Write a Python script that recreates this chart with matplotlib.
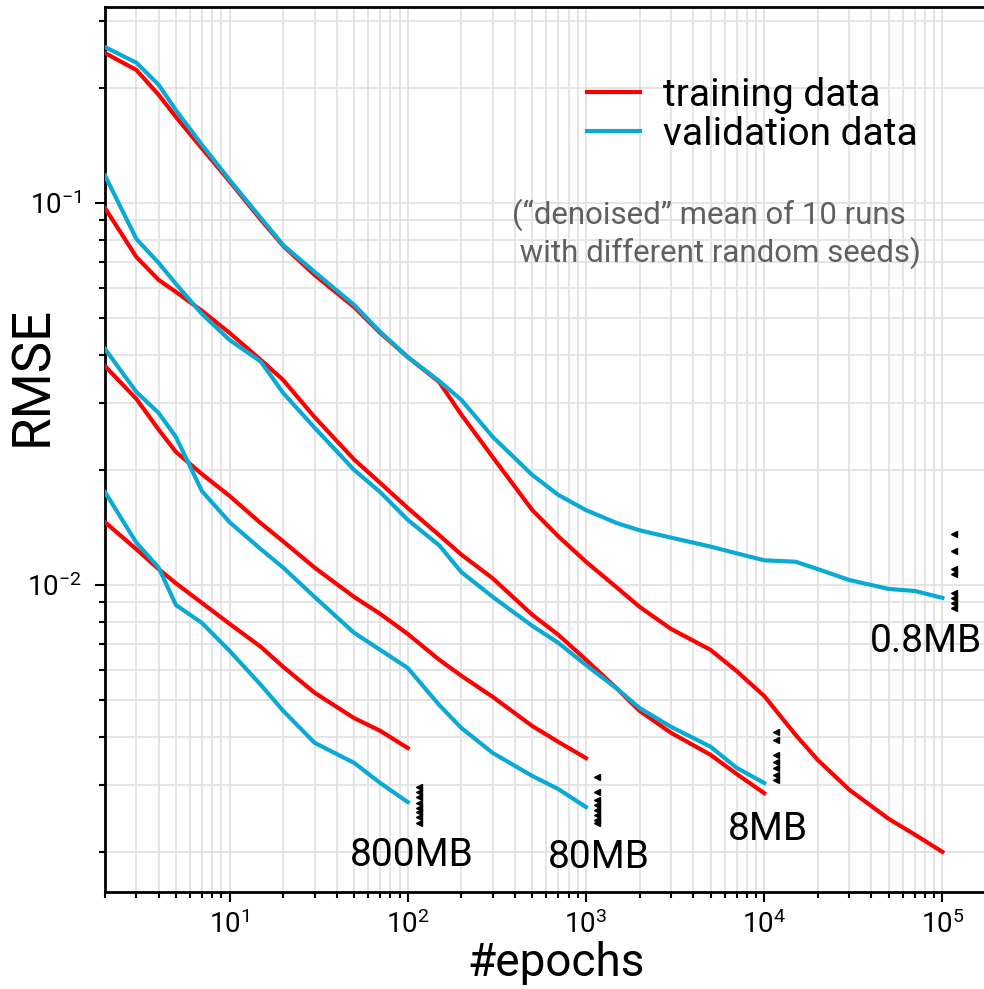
"""RMSE of training and validation data vs. number of epochs for four data sizes."""

import matplotlib
matplotlib.use("Agg")
import matplotlib.pyplot as plt

# Fonts: Roboto everywhere, also inside the 10^x tick labels
plt.rcParams["font.family"] = ["Roboto", "DejaVu Sans"]
plt.rcParams["mathtext.fontset"] = "custom"
plt.rcParams["mathtext.rm"] = "Roboto"
plt.rcParams["mathtext.it"] = "Roboto:italic"
plt.rcParams["mathtext.bf"] = "Roboto:bold"

epochs = [2, 3, 4, 5, 7, 10, 15, 20, 30, 50, 70, 100, 150, 200, 300, 500,
          700, 1000, 1500, 2000, 3000, 5000, 7000, 10000, 15000, 20000,
          30000, 50000, 70000, 100000]

# 0.8MB, trained for 1e5 epochs
train_08 = [0.247, 0.223, 0.192, 0.168, 0.139, 0.114, 0.0903, 0.0772, 0.0648,
            0.0534, 0.0457, 0.0395, 0.0340, 0.0279, 0.0216, 0.0157, 0.0134,
            0.0115, 0.00982, 0.00876, 0.00767, 0.00676, 0.00595, 0.00512,
            0.00405, 0.00348, 0.00291, 0.00244, 0.00222, 0.00200]
val_08 = [0.256, 0.233, 0.204, 0.175, 0.142, 0.115, 0.0913, 0.0776, 0.0660,
          0.0541, 0.0460, 0.0395, 0.0342, 0.0305, 0.0244, 0.0194, 0.0172,
          0.0157, 0.0145, 0.0139, 0.0133, 0.0126, 0.0121, 0.0116, 0.0115,
          0.0110, 0.0103, 0.00976, 0.00964, 0.00925]

# 8MB, trained for 1e4 epochs
train_8 = [0.0970, 0.0722, 0.0629, 0.0585, 0.0522, 0.0457, 0.0388, 0.0344,
           0.0275, 0.0213, 0.0185, 0.0159, 0.0135, 0.0120, 0.0104, 0.00835,
           0.00740, 0.00637, 0.00534, 0.00468, 0.00410, 0.00359, 0.00320,
           0.00285]
val_8 = [0.118, 0.0805, 0.0697, 0.0614, 0.0512, 0.0438, 0.0384, 0.0318,
         0.0258, 0.0200, 0.0175, 0.0148, 0.0127, 0.0108, 0.00930, 0.00781,
         0.00705, 0.00617, 0.00534, 0.00476, 0.00425, 0.00377, 0.00332,
         0.00303]

# 80MB, trained for 1e3 epochs
train_80 = [0.0374, 0.0307, 0.0255, 0.0223, 0.0195, 0.0171, 0.0145, 0.0130,
            0.0111, 0.00930, 0.00840, 0.00744, 0.00637, 0.00578, 0.00509,
            0.00427, 0.00388, 0.00352]
val_80 = [0.0415, 0.0320, 0.0282, 0.0244, 0.0176, 0.0146, 0.0124, 0.0111,
          0.00930, 0.00749, 0.00676, 0.00606, 0.00485, 0.00422, 0.00363,
          0.00316, 0.00292, 0.00262]

# 800MB, trained for 1e2 epochs
train_800 = [0.0146, 0.0124, 0.0110, 0.0101, 0.00897, 0.00791, 0.00688,
             0.00610, 0.00522, 0.00448, 0.00415, 0.00374]
val_800 = [0.0175, 0.0129, 0.0111, 0.00886, 0.00795, 0.00672, 0.00547,
           0.00468, 0.00386, 0.00342, 0.00303, 0.00270]

# Final validation RMSE of the single runs (the small arrow heads)
final_08 = [0.0136, 0.0123, 0.0110, 0.0107, 0.00953, 0.00925, 0.00897, 0.00871]
final_8 = [0.00412, 0.00393, 0.00359, 0.00344, 0.00332, 0.00318, 0.00309]
final_80 = [0.00314, 0.00287, 0.00274, 0.00266, 0.00258, 0.00250, 0.00243,
            0.00238]
final_800 = [0.00296, 0.00287, 0.00279, 0.00269, 0.00261, 0.00255, 0.00247,
             0.00238]

sizes = ["0.8MB", "8MB", "80MB", "800MB"]
max_epochs = [100000, 10000, 1000, 100]
trains = [train_08, train_8, train_80, train_800]
vals = [val_08, val_8, val_80, val_800]
finals = [final_08, final_8, final_80, final_800]
# where the size labels sit (epoch, rmse)
label_pos = [(8.1e4, 0.0071), (1.05e4, 0.00229), (1.18e3, 0.00193),
             (105, 0.00196)]

red = "#ff0000"
blue = "#0aaad4"

fig = plt.figure(figsize=(9.84, 9.89), dpi=100)
ax = fig.add_axes([105 / 984, 1 - 892 / 989, 891 / 984, 885 / 989])

for i in range(len(sizes)):
    n = len(trains[i])
    ax.plot(epochs[:n], trains[i], color=red, lw=3, zorder=3,
            label="training data" if i == 0 else None)
    ax.plot(epochs[:n], vals[i], color=blue, lw=3, zorder=4,
            label="validation data" if i == 0 else None)
    # arrow heads with the result of every run
    x_mark = [max_epochs[i] * 1.16] * len(finals[i])
    ax.plot(x_mark, finals[i], ls="none", marker="<", ms=5, color="black",
            zorder=5)
    ax.text(label_pos[i][0], label_pos[i][1], sizes[i], fontsize=28,
            ha="center", va="center", zorder=6)

ax.set_xscale("log")
ax.set_yscale("log")
ax.set_xlim(2, 2e5)
ax.set_ylim(0.00157, 0.326)

ax.grid(True, which="both", color="#e0e0e0", lw=1.2)
ax.tick_params(which="major", length=7, width=1.5, labelsize=20)
ax.tick_params(axis="y", which="major", pad=10)
ax.tick_params(axis="x", which="major", pad=6)
ax.tick_params(which="minor", length=4, width=1.5, labelleft=False,
               labelbottom=False)
ax.spines["right"].set_visible(False)
for side in ["left", "top", "bottom"]:
    ax.spines[side].set_linewidth(2)

ax.set_xlabel("#epochs", fontsize=33, va="top")
ax.xaxis.set_label_coords(0.506, -0.055)
ax.set_ylabel("RMSE", fontsize=38)
ax.yaxis.set_label_coords(-0.053, 0.583)

ax.legend(loc="upper left", bbox_to_anchor=(587 / 984, 1 - 77 / 989),
          bbox_transform=fig.transFigure, frameon=False, fontsize=28,
          handlelength=1.36, handletextpad=0.6, labelspacing=0.05,
          borderpad=0, borderaxespad=0)

# note below the legend
note_color = "#606060"
fig.text(512 / 984, 1 - 224 / 989, "(\u201cdenoised\u201d mean of 10 runs",
         fontsize=22.5, color=note_color, va="baseline")
fig.text(512 / 984, 1 - 262 / 989, " with different random seeds)",
         fontsize=22.5, color=note_color, va="baseline")

fig.savefig("out.png", dpi=100)
